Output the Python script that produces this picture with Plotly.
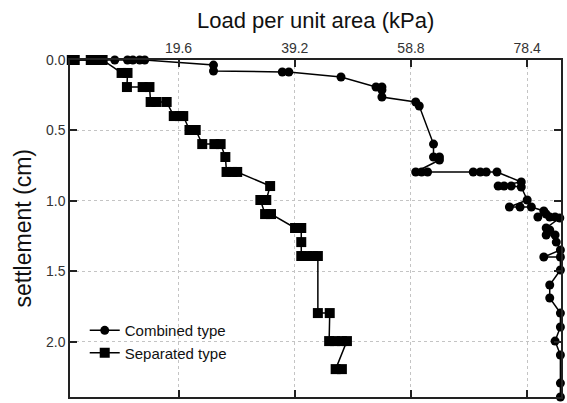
import plotly.graph_objects as go

# Combined type (load kPa, settlement cm)
comb_load = [1.6, 8.85, 11.0, 11.9, 13.05, 13.9, 25.5, 25.5, 37.1, 38.2, 47.0,
             52.9, 53.9, 53.9, 53.9, 59.6, 60.2, 62.6, 62.6, 63.6, 63.6,
             59.6, 60.6, 61.6, 69.3, 70.5, 71.5, 73.3, 77.4, 73.5, 74.5, 75.7, 77.4,
             78.4, 75.4, 77.2, 79.1, 81.2, 80.2, 81.6, 82.2, 83.1, 83.9,
             81.6, 82.2, 81.6, 83.1, 83.3, 84.0, 81.2, 84.0, 84.0, 82.2, 82.2,
             84.0, 84.0, 83.1, 84.0, 84.0, 84.0]
comb_settle = [0.0, 0.0, 0.0, 0.0, 0.0, 0.0, 0.036, 0.078, 0.085, 0.085, 0.121,
               0.192, 0.192, 0.213, 0.263, 0.298, 0.327, 0.597, 0.689, 0.689, 0.71,
               0.795, 0.795, 0.795, 0.795, 0.795, 0.795, 0.795, 0.866, 0.895, 0.895, 0.895, 0.902,
               0.994, 1.044, 1.044, 1.044, 1.072, 1.115, 1.094, 1.115, 1.115, 1.122,
               1.193, 1.207, 1.243, 1.243, 1.293, 1.349, 1.399, 1.399, 1.491, 1.598, 1.69,
               1.797, 1.896, 1.996, 2.095, 2.294, 2.393]

# Separated type
sep_load = [1.6, 2.1, 4.8, 5.8, 6.8, 10.0, 11.0, 10.9, 13.55, 14.7, 14.9, 15.9, 17.6,
            18.8, 19.8, 20.4, 21.45, 22.5, 23.6, 25.65, 26.7, 27.5, 27.7, 28.7, 29.5,
            35.05, 34.4, 33.4, 34.2, 35.2, 39.25, 40.3, 40.3, 40.3, 41.3, 42.3, 43.1,
            43.1, 45.1, 45.0, 46.0, 47.15, 48.0, 46.1, 47.15]
sep_settle = [0.0, 0.0, 0.0, 0.0, 0.0, 0.092, 0.092, 0.192, 0.192, 0.192, 0.298, 0.298, 0.298,
              0.398, 0.398, 0.398, 0.497, 0.497, 0.597, 0.597, 0.597, 0.689, 0.795, 0.795, 0.795,
              0.895, 0.994, 0.994, 1.094, 1.094, 1.193, 1.193, 1.293, 1.392, 1.392, 1.392, 1.392,
              1.797, 1.797, 1.996, 1.996, 1.996, 1.996, 2.195, 2.195]

x_ticks = [19.6, 39.2, 58.8, 78.4]
x_ticktext = ["19.6", "39.2", "58.8", "78.4"]
y_ticks = [0.0, 0.5, 1.0, 1.5, 2.0]
y_ticktext = ["0.0", "0.5", "1.0", "1.5", "2.0"]

FONT = "Liberation Sans, Arial, sans-serif"

fig = go.Figure()
fig.add_trace(go.Scatter(
    x=comb_load, y=comb_settle, mode="lines+markers", name="Combined type",
    line=dict(color="black", width=1.5),
    marker=dict(symbol="circle", size=9, color="black"),
    cliponaxis=False,
))
fig.add_trace(go.Scatter(
    x=sep_load, y=sep_settle, mode="lines+markers", name="Separated type",
    line=dict(color="black", width=1.5),
    marker=dict(symbol="square", size=10, color="black"),
    cliponaxis=False,
))

axis_common = dict(
    showline=True, linecolor="#222", linewidth=1.5, mirror="ticks",
    ticks="inside", ticklen=7, tickwidth=1.5, tickcolor="#222",
    showgrid=True, gridcolor="#c4c4c4", gridwidth=1, griddash="dot",
    zeroline=False,
    tickfont=dict(family=FONT, size=14, color="#333"),
)

fig.update_xaxes(range=[1.3, 84.1], side="top", tickvals=x_ticks, ticktext=x_ticktext,
                 **axis_common)
fig.update_yaxes(range=[2.393, 0.0], tickvals=y_ticks, ticktext=y_ticktext, **axis_common)

fig.update_layout(
    width=567, height=403,
    margin=dict(l=70, r=4, t=60, b=6),
    paper_bgcolor="white", plot_bgcolor="white",
    showlegend=True,
    legend=dict(x=0.03, y=0.246, xanchor="left", yanchor="top",
                bgcolor="rgba(0,0,0,0)", itemwidth=30, tracegroupgap=0,
                font=dict(family=FONT, size=15, color="#111")),
    annotations=[
        dict(text="Load per unit area (kPa)", xref="paper", yref="paper",
             x=0.5, y=1, yshift=40, xanchor="center", yanchor="middle",
             showarrow=False, font=dict(family=FONT, size=22, color="#111")),
        dict(text="settlement (cm)", xref="paper", yref="paper",
             x=0, xshift=-48, y=0.5, xanchor="center", yanchor="middle",
             textangle=-90, showarrow=False,
             font=dict(family=FONT, size=23, color="#111")),
    ],
)

fig.write_html("out.html")
